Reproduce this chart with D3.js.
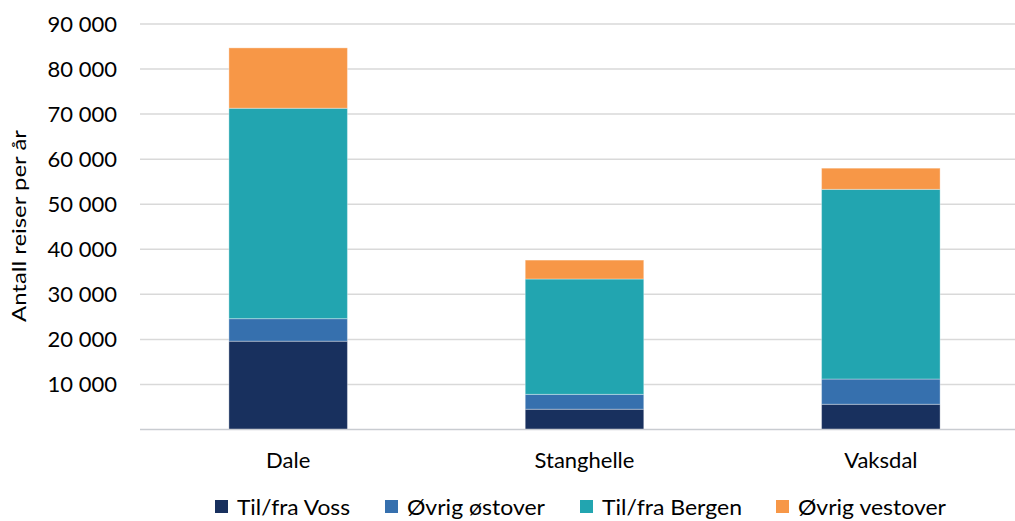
<!DOCTYPE html>
<html>
<head>
<meta charset="utf-8">
<script src="https://cdn.jsdelivr.net/npm/d3@7"></script>
<style>
  html, body { margin: 0; padding: 0; background: #fff; }
  svg { display: block; font-family: Lato, "Open Sans", sans-serif; }
</style>
</head>
<body>
<svg id="chart" width="1015" height="521"></svg>
<script>
// Travel volumes per station, split by direction
const stations = ["Dale", "Stanghelle", "Vaksdal"];
const seriesNames = ["Til/fra Voss", "Øvrig østover", "Til/fra Bergen", "Øvrig vestover"];
const tilFraVoss     = [19600, 4500, 5600];
const ovrigOstover   = [5000, 3300, 5600];
const tilFraBergen   = [46700, 25600, 42100];
const ovrigVestover  = [13400, 4200, 4700];
const yTicks = [10000, 20000, 30000, 40000, 50000, 60000, 70000, 80000, 90000];
const colors = ["#18305e", "#3670ae", "#22a5b0", "#f79747"];

const seriesValues = [tilFraVoss, ovrigOstover, tilFraBergen, ovrigVestover];
const rows = stations.map((s, i) => {
  const r = { station: s };
  seriesNames.forEach((n, k) => { r[n] = seriesValues[k][i]; });
  return r;
});

const svg = d3.select("#chart");
const plot = { left: 140, right: 1029, top: 24, bottom: 429.5 };

const x = d3.scaleBand().domain(stations).range([plot.left, plot.right]).paddingInner(0.6).paddingOuter(0.3);
const y = d3.scaleLinear().domain([0, 90000]).range([plot.bottom, plot.top]);

const locale = d3.formatLocale({ decimal: ",", thousands: " ", grouping: [3], currency: ["", " kr"] });
const fmt = locale.format(",d");

// gridlines
svg.append("g")
  .selectAll("line")
  .data(yTicks)
  .join("line")
  .attr("x1", plot.left).attr("x2", plot.right)
  .attr("y1", d => y(d)).attr("y2", d => y(d))
  .attr("stroke", "#d9d9d9").attr("stroke-width", 1.5);

// y axis labels
const yAxis = d3.axisLeft(y).tickValues(yTicks).tickFormat(fmt).tickSize(0).tickPadding(23);
const yg = svg.append("g").attr("transform", `translate(${plot.left},0)`).call(yAxis);
yg.select(".domain").remove();
yg.selectAll("text").attr("font-size", 22).attr("fill", "#000").attr("font-family", "Lato, sans-serif");

// stacked bars
const stack = d3.stack().keys(seriesNames);
const layers = stack(rows);
svg.append("g")
  .selectAll("g")
  .data(layers)
  .join("g")
  .attr("fill", (d, i) => colors[i])
  .selectAll("rect")
  .data(d => d)
  .join("rect")
  .attr("x", d => x(d.data.station))
  .attr("width", x.bandwidth())
  .attr("y", d => y(d[1]))
  .attr("height", d => y(d[0]) - y(d[1]))
  .attr("stroke", "rgba(255,255,255,0.35)")
  .attr("stroke-width", 1);

// baseline
svg.append("line")
  .attr("x1", plot.left).attr("x2", plot.right)
  .attr("y1", y(0)).attr("y2", y(0))
  .attr("stroke", "#c9ccd1").attr("stroke-width", 1.5);

// x axis labels
const xAxis = d3.axisBottom(x).tickSize(0).tickPadding(23);
const xg = svg.append("g").attr("transform", `translate(0,${y(0)})`).call(xAxis);
xg.select(".domain").remove();
xg.selectAll("text").attr("font-size", 22).attr("fill", "#000").attr("font-family", "Lato, sans-serif");

// y axis title
svg.append("text")
  .attr("transform", "translate(26,226) rotate(-90)")
  .attr("text-anchor", "middle")
  .attr("font-size", 20)
  .attr("fill", "#000")
  .attr("textLength", 192)
  .attr("lengthAdjust", "spacingAndGlyphs")
  .text("Antall reiser per år");

// legend: square swatch followed by label
const legendX = [215, 385, 580, 776];
const legendTextLen = [113, 138, 140, 148];
seriesNames.forEach((name, i) => {
  const g = svg.append("g").attr("transform", `translate(${legendX[i]},0)`);
  g.append("rect").attr("x", 0).attr("y", 500).attr("width", 13).attr("height", 13).attr("fill", colors[i]);
  g.append("text").attr("x", 22).attr("y", 515).attr("font-size", 22).attr("fill", "#000")
    .attr("textLength", legendTextLen[i]).attr("lengthAdjust", "spacingAndGlyphs")
    .text(name);
});
</script>
</body>
</html>
